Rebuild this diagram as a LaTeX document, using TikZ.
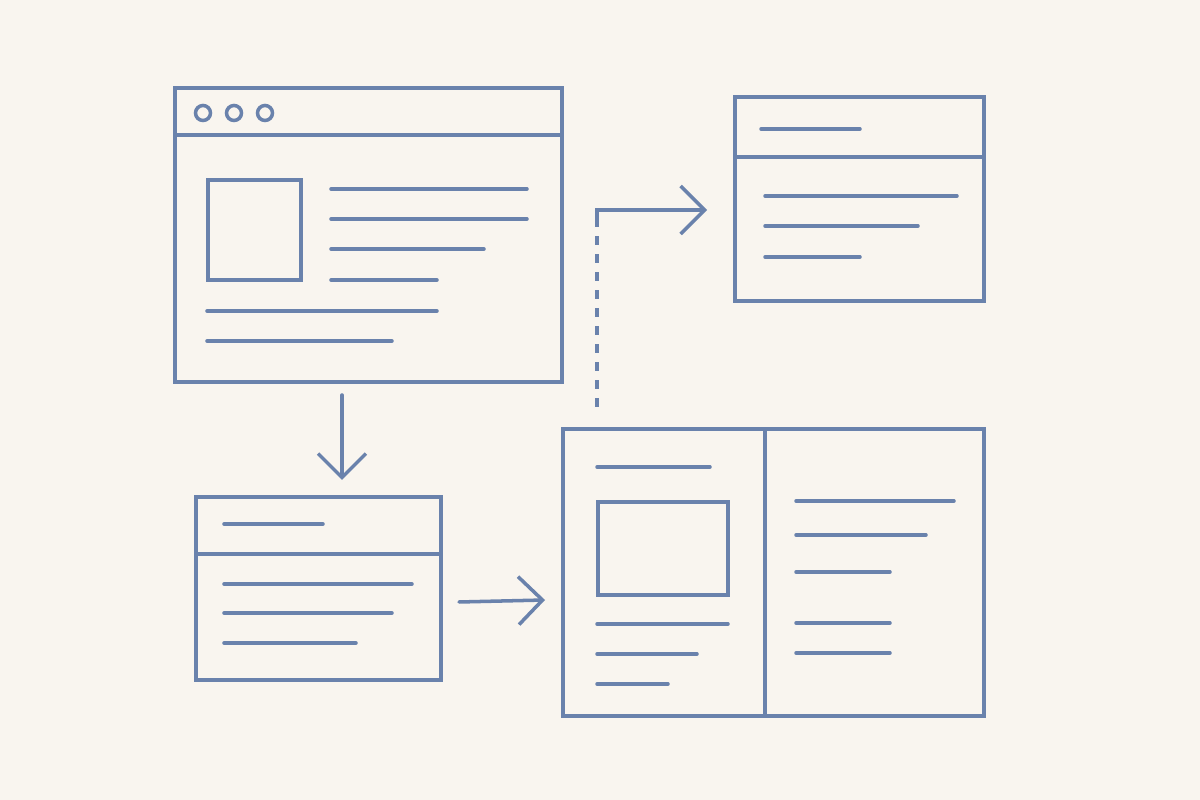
\documentclass[tikz,border=0pt]{standalone}
\usepackage{tikz}
\usetikzlibrary{arrows.meta,positioning}
\usepackage{xcolor}
\definecolor{paper}{HTML}{F9F5EF}
\definecolor{ink}{HTML}{6A82AC}

\begin{document}
\begin{tikzpicture}[x=0.1mm,y=-0.1mm]
\tikzstyle{card} = [shape=rectangle, draw=ink, line width=1pt, inner sep=0pt, outer sep=0pt, anchor=north west];
\tikzstyle{textline} = [draw=ink, line width=1pt, line cap=round];
\tikzstyle{flow} = [draw=ink, line width=1pt, line cap=round, -{Straight Barb[length=2.4mm,width=4.8mm]}];

\fill[paper] (0,0) rectangle (1200,800);
\useasboundingbox (0,0) rectangle (1200,800);

% browser window
\node[card, minimum width=38.7mm, minimum height=29.4mm](Browser) at (175,88) {};
\draw[textline] (175,135) -- (562,135);
\foreach \x in {203,234,265}
    \draw[ink, line width=1pt] (\x,113) circle (0.75mm);
\node[card, minimum width=9.3mm, minimum height=10mm](BrowserPic) at (208,180) {};
\draw[textline] (331,189) -- (527,189) (331,219) -- (527,219)
    (331,249) -- (484,249) (331,280) -- (437,280)
    (207,311) -- (437,311) (207,341) -- (392,341);

% detail card
\node[card, minimum width=24.9mm, minimum height=20.4mm](Detail) at (735,97) {};
\draw[textline] (735,157) -- (984,157);
\draw[textline] (761,129) -- (860,129)
    (765,196) -- (957,196) (765,226) -- (918,226) (765,257) -- (860,257);

% list card
\node[card, minimum width=24.5mm, minimum height=18.3mm](List) at (196,497) {};
\draw[textline] (196,554) -- (441,554);
\draw[textline] (224,524) -- (323,524)
    (224,584) -- (412,584) (224,613) -- (392,613) (224,643) -- (356,643);

% split page
\node[card, minimum width=42.1mm, minimum height=28.7mm](Split) at (563,429) {};
\draw[textline] (765,429) -- (765,716);
\node[card, minimum width=13mm, minimum height=9.3mm](SplitPic) at (598,502) {};
\draw[textline] (597,467) -- (710,467)
    (597,624) -- (728,624) (597,654) -- (697,654) (597,684) -- (668,684);
\draw[textline] (796,501) -- (954,501) (796,535) -- (926,535)
    (796,572) -- (890,572) (796,623) -- (890,623) (796,653) -- (890,653);

% connectors
\coordinate (BrowserOut) at (342,395);
\coordinate (ListIn) at (342,480);
\coordinate (ListOut) at (459,602);
\coordinate (SplitIn) at (545,600);
\coordinate (SplitOut) at (597,407);
\coordinate (Bend) at (597,222);
\coordinate (Corner) at (597,210);
\coordinate (DetailIn) at (707,210);

\draw[flow] (BrowserOut) -- (ListIn);
\draw[flow] (ListOut) -- (SplitIn);
\draw[ink, line width=1pt, dash pattern=on 0.9mm off 0.9mm] (SplitOut) -- (Bend);
\draw[flow] (Bend) -- (Corner) -- (DetailIn);
\end{tikzpicture}
\end{document}
